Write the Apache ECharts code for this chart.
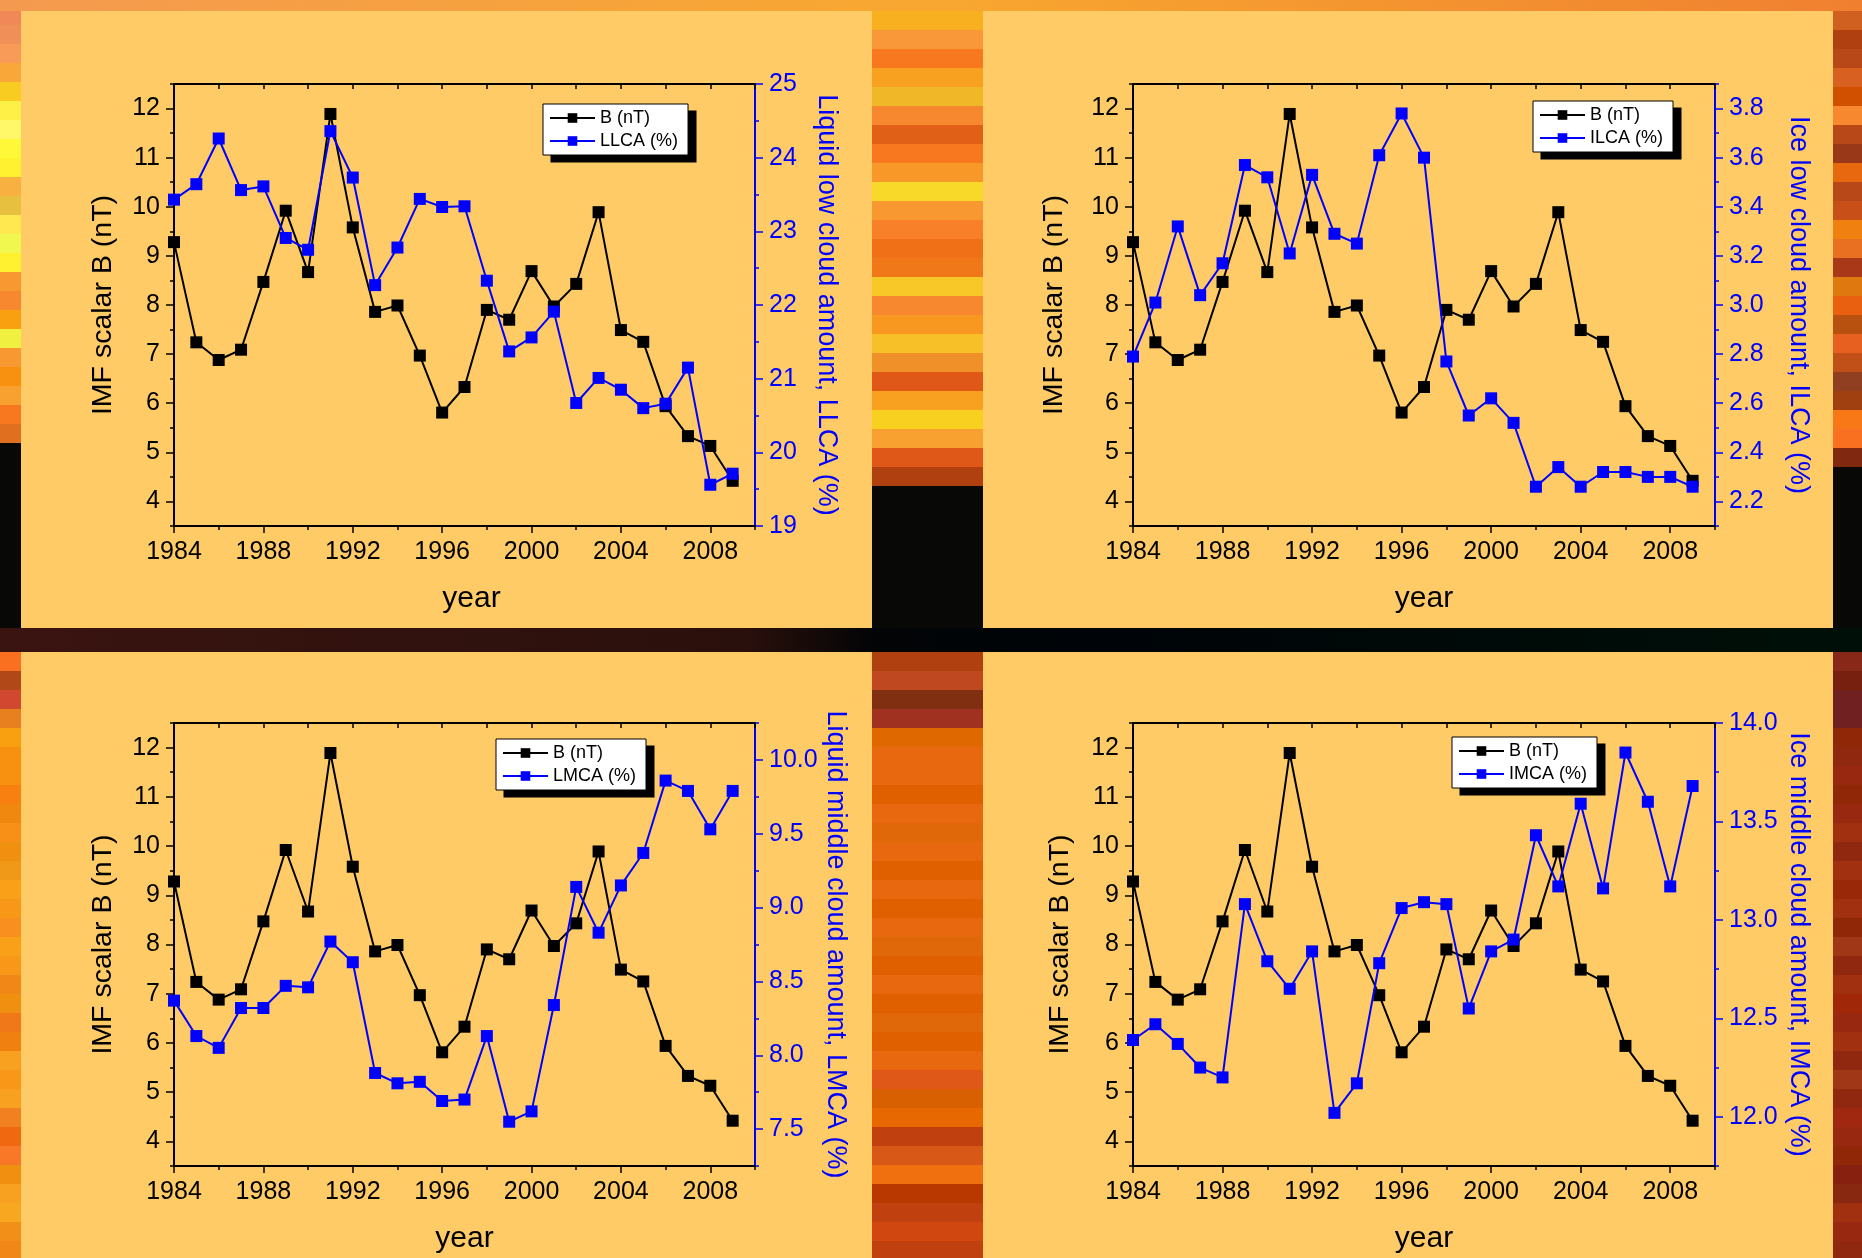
<!DOCTYPE html>
<html><head><meta charset="utf-8">
<script src="https://cdn.jsdelivr.net/npm/echarts@6/dist/echarts.min.js"></script>
<style>
html,body{margin:0;padding:0;width:1862px;height:1258px;overflow:hidden;background:#000;}
#bg{position:absolute;left:0;top:0;width:1862px;height:1258px;}
#chart{position:absolute;left:0;top:0;width:1862px;height:1258px;}
.s{position:absolute;}
</style></head><body>
<div id="bg"></div><div id="chart"></div>
<script>
// ---------------- data ----------------
const years = [1984,1985,1986,1987,1988,1989,1990,1991,1992,1993,1994,1995,1996,1997,1998,1999,2000,2001,2002,2003,2004,2005,2006,2007,2008,2009];
const bField = [9.28,7.24,6.88,7.09,8.47,9.92,8.67,11.89,9.58,7.86,7.99,6.97,5.81,6.33,7.90,7.70,8.69,7.97,8.43,9.89,7.49,7.25,5.94,5.33,5.13,4.42];
const llca = [23.43,23.64,24.26,23.56,23.61,22.91,22.75,24.36,23.73,22.27,22.78,23.44,23.33,23.34,22.33,21.37,21.56,21.91,20.67,21.01,20.85,20.60,20.66,21.15,19.56,19.71];
const ilca = [2.79,3.01,3.32,3.04,3.17,3.57,3.52,3.21,3.53,3.29,3.25,3.61,3.78,3.60,2.77,2.55,2.62,2.52,2.26,2.34,2.26,2.32,2.32,2.30,2.30,2.26];
const lmca = [8.37,8.13,8.05,8.32,8.32,8.47,8.46,8.77,8.63,7.88,7.81,7.82,7.69,7.70,8.13,7.55,7.62,8.34,9.14,8.83,9.15,9.37,9.86,9.79,9.53,9.79];
const imca = [12.39,12.47,12.37,12.25,12.20,13.08,12.79,12.65,12.84,12.02,12.17,12.78,13.06,13.09,13.08,12.55,12.84,12.90,13.43,13.17,13.59,13.16,13.85,13.60,13.17,13.68];
const yearTicks = [1984,1988,1992,1996,2000,2004,2008];
const bTicks = [4,5,6,7,8,9,10,11,12];
const llcaTicks = [19,20,21,22,23,24,25];
const ilcaTicks = [2.2,2.4,2.6,2.8,3.0,3.2,3.4,3.6,3.8];
const lmcaTicks = [7.5,8.0,8.5,9.0,9.5,10.0];
const imcaTicks = [12.0,12.5,13.0,13.5,14.0];
const bName = 'B (nT)';
const bTitle = 'IMF scalar B (nT)';
const cloudNames = ['LLCA (%)','ILCA (%)','LMCA (%)','IMCA (%)'];
const cloudTitles = ['Liquid low cloud amount, LLCA (%)','Ice low cloud amount, ILCA (%)','Liquid middle cloud amount, LMCA (%)','Ice middle cloud amount, IMCA (%)'];

// ---------------- decorative background ----------------
const leftUpper = ['#F08858','#F09058','#F89A58','#F8A838','#F8CC20','#FFF048','#FFF868','#FFF838','#FFF030','#F8B040','#E8C040','#FFE850','#F0F850','#FFF030','#F89830','#F88830','#F8A010','#F0F040','#F89830','#F89010','#F8A030','#F87820','#E07020'];
const leftLower = ['#F87020','#B04818','#D04830','#E88020','#F8A010','#F89010','#F89010','#F88010','#F08810','#F89018','#F09010','#F09818','#F8A018','#F89818','#F89020','#F8A018','#F89818','#F08818','#F09010','#F07818','#F08010','#F8A020','#F89818','#F8A020','#F08020','#F06810','#F87828','#F09010','#F8A020','#F8A820','#F09018','#F08818'];
const midUpper = ['#F8B020','#F89838','#F87820','#F8A020','#F0B828','#F88830','#E06018','#F87820','#F89828','#F8D828','#F89830','#F88028','#F07018','#F07818','#F8C828','#F88830','#F89820','#F8C028','#F09028','#E05818','#F8A020','#F8D020','#F8A030','#E05818','#B04010'];
const midLower = ['#B04010','#C04820','#803010','#A03020','#E06800','#E86810','#E86810','#E06000','#E86810','#E06808','#E86810','#E06000','#E86810','#E06000','#E86810','#E06808','#E06000','#E86810','#E06000','#E06808','#E06000','#E86810','#E05818','#D86000','#E86800','#C04010','#D85818','#F07010','#B83800','#C04010','#D04810','#C04010'];
const rightUpper = ['#D06020','#B04010','#B84818','#D86020','#D05000','#F88830','#B84818','#983818','#E86810','#B84818','#C85018','#F08010','#E87020','#A83818','#E07810','#E86010','#B85010','#E86020','#C05018','#904020','#A04010','#F87818','#F87020','#802810'];
const rightLower = ['#882818','#782010','#702020','#702020','#902808','#902810','#982810','#902808','#982810','#A03010','#902810','#A03010','#982808','#A03010','#902808','#A03818','#902810','#A03010','#A02808','#982810','#A03010','#902810','#A03818','#902810','#A02810','#982810','#902808','#882010','#882810','#A03010','#982810','#902810'];
const bg = document.getElementById('bg');
function box(x,y,w,h,c){const d=document.createElement('div');d.className='s';d.style.cssText='left:'+x+'px;top:'+y+'px;width:'+w+'px;height:'+h+'px;background:'+c;bg.appendChild(d);}
function stripes(x,w,y0,cols){cols.forEach((c,i)=>box(x,y0+i*19,w,19,c));}
box(0,0,1862,1258,'#080806');
stripes(0,21,6,leftUpper); stripes(0,21,652,leftLower);
stripes(872,111,11,midUpper); stripes(872,111,652,midLower);
stripes(1833,29,11,rightUpper); stripes(1833,29,652,rightLower);
box(0,0,1862,11,'linear-gradient(to right,#F49A50 0%,#F8A830 50%,#F08030 100%)');
box(0,628,1862,24,'linear-gradient(to right,#3a1410 0%,#2a100c 40%,#020406 47%,#000408 60%,#001008 100%)');
const panelColor = '#FFCB66';
box(21,11,851,617,panelColor); box(983,11,850,617,panelColor);
box(21,652,851,606,panelColor); box(983,652,850,606,panelColor);

// ---------------- chart ----------------
const FONT = 'Liberation Sans, Arial, sans-serif';
const BLUE = '#0000FF';
const layout = [
  {grid:{left:174,top:84,width:581,height:442}, lmin:19, lmax:25, step:0.5, dec:0, ticks:llcaTicks, data:llca, legend:{left:543,top:104}, legendSize:[147,51], lGap:56, rGap:58, yearPad:14},
  {grid:{left:1133,top:84,width:582,height:442}, lmin:2.1, lmax:3.9, step:0.1, dec:1, ticks:ilcaTicks, data:ilca, legend:{left:1533,top:101}, legendSize:[141,50], lGap:64, rGap:70, yearPad:0},
  {grid:{left:174,top:723,width:581,height:443}, lmin:7.25, lmax:10.25, step:0.25, dec:1, ticks:lmcaTicks, data:lmca, legend:{left:496,top:739}, legendSize:[153,49], lGap:56, rGap:67, yearPad:0},
  {grid:{left:1133,top:723,width:582,height:443}, lmin:11.75, lmax:14.0, step:0.25, dec:1, ticks:imcaTicks, data:imca, legend:{left:1452,top:737}, legendSize:[146,49], lGap:58, rGap:70, yearPad:0}
];
const grids=[], xAxes=[], yAxes=[], series=[], legends=[];
layout.forEach((p,i)=>{
  grids.push(Object.assign({containLabel:false}, p.grid));
  const xi = xAxes.length, yi = yAxes.length;
  const xBase = {type:'value', gridIndex:i, min:1984, max:2010, interval:2, splitLine:{show:false}};
  xAxes.push(Object.assign({}, xBase, {position:'bottom', axisLine:{onZero:false,lineStyle:{color:'#000',width:2}},
    axisTick:{inside:false,length:7,customValues:yearTicks,lineStyle:{color:'#000',width:1.5}},
    axisLabel:{customValues:yearTicks,margin:14,color:'#000',fontSize:25,fontFamily:FONT,formatter:v=>String(v)},
    name:'year', nameLocation:'middle', nameGap:58, nameTextStyle:{color:'#000',fontSize:30,fontFamily:FONT,padding:[0,0,0,p.yearPad]}}));
  xAxes.push(Object.assign({}, xBase, {position:'bottom', axisLine:{show:false,onZero:false},
    axisTick:{inside:false,length:4,lineStyle:{color:'#000',width:1.5}}, axisLabel:{show:false}}));
  xAxes.push(Object.assign({}, xBase, {position:'top', axisLine:{onZero:false,lineStyle:{color:'#000',width:2}},
    axisTick:{inside:true,length:5,lineStyle:{color:'#000',width:1.5}}, axisLabel:{show:false}}));
  // left
  const lBase = {type:'value', gridIndex:i, position:'left', min:3.5, max:12.5, interval:0.5, splitLine:{show:false}};
  yAxes.push(Object.assign({}, lBase, {axisLine:{show:true,onZero:false,lineStyle:{color:'#000',width:2}},
    axisTick:{show:true,inside:false,length:8,customValues:bTicks,lineStyle:{color:'#000',width:1.5}},
    axisLabel:{customValues:bTicks,margin:14,color:'#000',fontSize:25,fontFamily:FONT},
    name:bTitle, nameLocation:'middle', nameRotate:90, nameGap:p.lGap, nameTextStyle:{color:'#000',fontSize:28.5,fontFamily:FONT}}));
  yAxes.push(Object.assign({}, lBase, {axisLine:{show:false,onZero:false},
    axisTick:{show:true,inside:false,length:4,lineStyle:{color:'#000',width:1.5}}, axisLabel:{show:false}}));
  // right
  const rBase = {type:'value', gridIndex:i, position:'right', min:p.lmin, max:p.lmax, interval:p.step, splitLine:{show:false}};
  const dec = p.dec;
  yAxes.push(Object.assign({}, rBase, {axisLine:{show:true,onZero:false,lineStyle:{color:BLUE,width:2}},
    axisTick:{show:true,inside:false,length:8,customValues:p.ticks,lineStyle:{color:BLUE,width:1.5}},
    axisLabel:{customValues:p.ticks,margin:14,color:BLUE,fontSize:25,fontFamily:FONT,formatter:v=>Number(v).toFixed(dec)},
    name:cloudTitles[i], nameLocation:'middle', nameRotate:-90, nameGap:p.rGap, nameTextStyle:{color:BLUE,fontSize:27,fontFamily:FONT}}));
  yAxes.push(Object.assign({}, rBase, {axisLine:{show:false,onZero:false},
    axisTick:{show:true,inside:false,length:4,lineStyle:{color:BLUE,width:1.5}}, axisLabel:{show:false}}));
  series.push({type:'line', name:bName, xAxisIndex:xi, yAxisIndex:yi, data:years.map((y,k)=>[y,bField[k]]),
    symbol:'rect', symbolSize:12, showSymbol:true, lineStyle:{color:'#000',width:2}, itemStyle:{color:'#000'}, z:2});
  series.push({type:'line', name:cloudNames[i], xAxisIndex:xi, yAxisIndex:yi+2, data:years.map((y,k)=>[y,p.data[k]]),
    symbol:'rect', symbolSize:12, showSymbol:true, lineStyle:{color:BLUE,width:2}, itemStyle:{color:BLUE}, z:3});
  legends.push({left:p.legend.left, top:p.legend.top, orient:'vertical', data:[bName, cloudNames[i]], z:6,
    backgroundColor:'#fff', borderColor:'#000', borderWidth:1,
    itemWidth:45, itemHeight:12, itemGap:5, padding:[5,10,5,6], selectedMode:false,
    textStyle:{color:'#000',fontSize:18,fontFamily:FONT}});
});
const chart = echarts.init(document.getElementById('chart'), null, {renderer:'canvas'});
chart.setOption({animation:false, backgroundColor:'transparent', grid:grids, xAxis:xAxes, yAxis:yAxes, series:series, legend:legends});

// legend drop shadows (solid offset box behind each legend)
const shadowEls = [];
layout.forEach((p,i)=>{
  let r = null;
  try {
    const m = chart.getModel().getComponent('legend', i);
    const v = chart.getViewOfComponentModel(m);
    const g = v.group; const b = g.getBoundingRect();
    if (b && b.width > 20 && b.height > 20) r = {x:g.x+b.x, y:g.y+b.y, w:b.width, h:b.height};
  } catch(e) {}
  if (!r) r = {x:p.legend.left, y:p.legend.top, w:p.legendSize[0], h:p.legendSize[1]};
  shadowEls.push({type:'rect', z:5, silent:true, shape:{x:r.x+8, y:r.y+7, width:r.w, height:r.h}, style:{fill:'#000'}});
});
chart.setOption({graphic:{elements:shadowEls}});
</script>
</body></html>
